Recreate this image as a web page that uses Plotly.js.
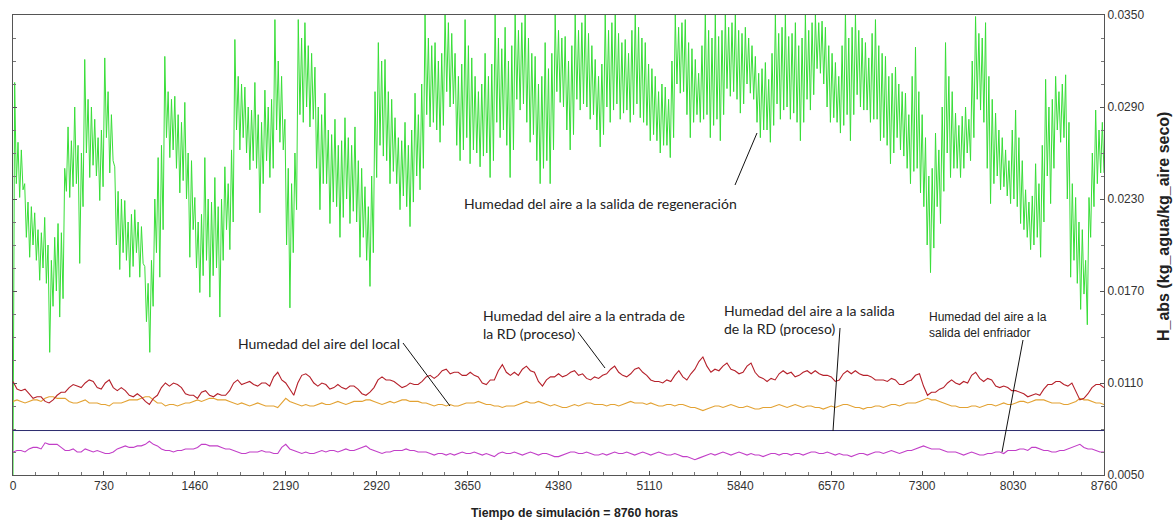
<!DOCTYPE html>
<html>
<head>
<meta charset="utf-8">
<script src="https://cdn.plot.ly/plotly-3.0.1.min.js"></script>
<style>html,body{margin:0;padding:0;background:#fff;}#chart{width:1173px;height:523px;}</style>
</head>
<body>
<div id="chart"></div>
<script>
// ---------- data (kg_agua / kg_aire seco vs. hours) ----------
const totalHours = 8760;
const xTickVals = [0, 730, 1460, 2190, 2920, 3650, 4380, 5110, 5840, 6570, 7300, 8030, 8760];
const xTickText = ["0", "730", "1460", "2190", "2920", "3650", "4380", "5110", "5840", "6570", "7300", "8030", "8760"];
const yTickVals = [0.0050, 0.0110, 0.0170, 0.0230, 0.0290, 0.0350];
const yTickText = ["0.0050", "0.0110", "0.0170", "0.0230", "0.0290", "0.0350"];

// Humedad del aire a la salida de regeneración
const regeneracion = [0.0050,
0.0306,0.0240,0.0267,0.0231,0.0262,0.0236, 0.0240,0.0205,0.0228,0.0192,0.0225,0.0200,
0.0221,0.0190,0.0210,0.0177,0.0208,0.0185, 0.0218,0.0175,0.0200,0.0130,0.0190,0.0160,
0.0205,0.0170,0.0214,0.0153,0.0208,0.0165, 0.0250,0.0235,0.0277,0.0231,0.0268,0.0238,
0.0290,0.0240,0.0265,0.0188,0.0260,0.0225, 0.0321,0.0260,0.0295,0.0244,0.0290,0.0252,
0.0282,0.0245,0.0270,0.0229,0.0275,0.0238, 0.0322,0.0270,0.0300,0.0247,0.0285,0.0255,
0.0251,0.0200,0.0235,0.0184,0.0230,0.0195, 0.0229,0.0190,0.0215,0.0179,0.0220,0.0186,
0.0223,0.0195,0.0215,0.0179,0.0212,0.0188, 0.0186,0.0150,0.0175,0.0130,0.0190,0.0160,
0.0230,0.0195,0.0257,0.0179,0.0265,0.0210, 0.0323,0.0270,0.0300,0.0257,0.0295,0.0262,
0.0297,0.0250,0.0285,0.0234,0.0280,0.0242, 0.0293,0.0230,0.0260,0.0192,0.0255,0.0210,
0.0231,0.0185,0.0215,0.0169,0.0220,0.0180, 0.0257,0.0190,0.0230,0.0166,0.0228,0.0180,
0.0244,0.0185,0.0225,0.0153,0.0230,0.0190, 0.0251,0.0210,0.0240,0.0197,0.0262,0.0215,
0.0334,0.0275,0.0310,0.0262,0.0305,0.0270, 0.0303,0.0260,0.0290,0.0249,0.0288,0.0255,
0.0306,0.0250,0.0285,0.0221,0.0280,0.0240, 0.0301,0.0255,0.0290,0.0244,0.0295,0.0250,
0.0347,0.0275,0.0320,0.0267,0.0310,0.0262, 0.0282,0.0200,0.0250,0.0159,0.0240,0.0195,
0.0260,0.0223,0.0347,0.0285,0.0335,0.0280, 0.0345,0.0290,0.0330,0.0277,0.0325,0.0282,
0.0316,0.0250,0.0290,0.0223,0.0285,0.0240, 0.0299,0.0240,0.0275,0.0214,0.0272,0.0228,
0.0282,0.0225,0.0265,0.0205,0.0268,0.0218, 0.0283,0.0230,0.0270,0.0214,0.0265,0.0222,
0.0277,0.0215,0.0255,0.0192,0.0250,0.0205, 0.0238,0.0190,0.0225,0.0173,0.0245,0.0195,
0.0300,0.0244,0.0332,0.0265,0.0320,0.0258, 0.0321,0.0255,0.0300,0.0240,0.0295,0.0248,
0.0283,0.0240,0.0270,0.0223,0.0268,0.0232, 0.0280,0.0225,0.0265,0.0212,0.0275,0.0228,
0.0299,0.0245,0.0285,0.0236,0.0305,0.0250, 0.0350,0.0285,0.0335,0.0277,0.0330,0.0280,
0.0332,0.0275,0.0320,0.0267,0.0325,0.0278, 0.0352,0.0300,0.0345,0.0290,0.0338,0.0292,
0.0325,0.0265,0.0310,0.0255,0.0318,0.0262, 0.0347,0.0270,0.0330,0.0253,0.0322,0.0262,
0.0310,0.0260,0.0300,0.0251,0.0305,0.0258, 0.0325,0.0260,0.0310,0.0244,0.0318,0.0255,
0.0350,0.0280,0.0335,0.0270,0.0328,0.0275, 0.0342,0.0265,0.0320,0.0244,0.0330,0.0262,
0.0352,0.0295,0.0340,0.0288,0.0345,0.0292, 0.0350,0.0280,0.0335,0.0267,0.0325,0.0272,
0.0323,0.0255,0.0305,0.0240,0.0310,0.0250, 0.0332,0.0255,0.0315,0.0240,0.0325,0.0262,
0.0350,0.0300,0.0340,0.0293,0.0335,0.0290, 0.0336,0.0275,0.0320,0.0262,0.0330,0.0272,
0.0350,0.0295,0.0340,0.0288,0.0345,0.0292, 0.0350,0.0290,0.0338,0.0282,0.0330,0.0285,
0.0321,0.0275,0.0310,0.0264,0.0318,0.0272, 0.0350,0.0290,0.0340,0.0280,0.0345,0.0288,
0.0350,0.0292,0.0338,0.0282,0.0332,0.0286, 0.0334,0.0288,0.0325,0.0280,0.0340,0.0285,
0.0352,0.0292,0.0342,0.0283,0.0335,0.0280, 0.0332,0.0278,0.0318,0.0268,0.0315,0.0272,
0.0310,0.0268,0.0300,0.0260,0.0305,0.0265, 0.0303,0.0265,0.0295,0.0257,0.0320,0.0270,
0.0350,0.0305,0.0342,0.0299,0.0345,0.0300, 0.0347,0.0285,0.0332,0.0270,0.0328,0.0280,
0.0321,0.0285,0.0312,0.0280,0.0330,0.0282, 0.0352,0.0285,0.0340,0.0270,0.0335,0.0278,
0.0350,0.0282,0.0336,0.0268,0.0340,0.0285, 0.0350,0.0302,0.0342,0.0297,0.0345,0.0300,
0.0350,0.0295,0.0340,0.0286,0.0338,0.0292, 0.0342,0.0305,0.0335,0.0299,0.0330,0.0295,
0.0323,0.0280,0.0312,0.0270,0.0315,0.0275, 0.0319,0.0275,0.0308,0.0267,0.0325,0.0278,
0.0350,0.0292,0.0338,0.0282,0.0342,0.0288, 0.0350,0.0290,0.0336,0.0282,0.0338,0.0286,
0.0345,0.0280,0.0330,0.0268,0.0335,0.0280, 0.0350,0.0295,0.0340,0.0288,0.0345,0.0298,
0.0350,0.0315,0.0345,0.0312,0.0346,0.0305, 0.0342,0.0290,0.0330,0.0280,0.0325,0.0283,
0.0319,0.0280,0.0310,0.0273,0.0330,0.0278, 0.0352,0.0285,0.0335,0.0268,0.0342,0.0285,
0.0350,0.0298,0.0340,0.0290,0.0335,0.0288, 0.0332,0.0288,0.0322,0.0280,0.0338,0.0282,
0.0347,0.0282,0.0330,0.0268,0.0325,0.0270, 0.0323,0.0265,0.0310,0.0253,0.0312,0.0260,
0.0316,0.0270,0.0305,0.0262,0.0300,0.0258, 0.0299,0.0250,0.0285,0.0240,0.0310,0.0248,
0.0329,0.0250,0.0300,0.0234,0.0285,0.0225, 0.0270,0.0200,0.0245,0.0182,0.0250,0.0198,
0.0273,0.0225,0.0262,0.0214,0.0290,0.0235, 0.0332,0.0260,0.0310,0.0244,0.0300,0.0250,
0.0286,0.0250,0.0278,0.0244,0.0284,0.0250, 0.0290,0.0260,0.0282,0.0255,0.0320,0.0270,
0.0349,0.0295,0.0338,0.0288,0.0335,0.0280, 0.0345,0.0250,0.0310,0.0227,0.0295,0.0240,
0.0286,0.0245,0.0275,0.0236,0.0270,0.0238, 0.0262,0.0232,0.0255,0.0227,0.0275,0.0230,
0.0288,0.0225,0.0270,0.0214,0.0255,0.0210, 0.0236,0.0205,0.0228,0.0197,0.0232,0.0200,
0.0253,0.0205,0.0240,0.0192,0.0265,0.0215, 0.0308,0.0245,0.0290,0.0227,0.0295,0.0250,
0.0310,0.0275,0.0300,0.0267,0.0305,0.0270, 0.0311,0.0230,0.0280,0.0179,0.0240,0.0190,
0.0231,0.0175,0.0215,0.0158,0.0210,0.0168, 0.0190,0.0148,0.0231,0.0205,0.0260,0.0225,
0.0288,0.0240,0.0275,0.0247,0.0280,0.0247];

// Humedad del aire a la entrada de la RD (proceso)
const entradaRD = [
0.0111,0.0106,0.0105,0.0106,0.0103,0.0100,0.0101,0.0101,0.0098,0.0097,0.0099,0.0102,0.0104,0.0104,0.0107,0.0109,
0.0108,0.0107,0.0110,0.0112,0.0111,0.0107,0.0106,0.0110,0.0112,0.0107,0.0105,0.0107,0.0105,0.0102,0.0101,0.0103,
0.0101,0.0098,0.0096,0.0100,0.0102,0.0107,0.0110,0.0108,0.0110,0.0109,0.0107,0.0103,0.0102,0.0102,0.0100,0.0104,
0.0105,0.0102,0.0101,0.0103,0.0102,0.0102,0.0105,0.0110,0.0112,0.0109,0.0110,0.0111,0.0109,0.0108,0.0110,0.0110,
0.0108,0.0114,0.0117,0.0112,0.0110,0.0106,0.0102,0.0110,0.0115,0.0116,0.0114,0.0110,0.0108,0.0110,0.0109,0.0106,
0.0107,0.0109,0.0107,0.0106,0.0108,0.0108,0.0106,0.0103,0.0102,0.0104,0.0107,0.0112,
0.0114,0.0112,0.0112,0.0111,0.0109,0.0107,0.0108,0.0110,0.0109,0.0109,0.0111,0.0114,0.0115,0.0113,0.0115,0.0118,
0.0119,0.0116,0.0117,0.0117,0.0115,0.0115,0.0117,0.0115,0.0114,0.0110,0.0109,0.0112,0.0112,0.0118,0.0122,0.0117,
0.0115,0.0117,0.0115,0.0119,0.0121,0.0118,0.0117,0.0111,0.0108,0.0112,0.0114,0.0114,0.0116,0.0114,0.0115,0.0117,
0.0118,0.0115,0.0116,0.0113,0.0112,0.0114,0.0113,0.0115,0.0116,0.0119,0.0121,0.0117,0.0115,0.0114,0.0116,0.0119,
0.0120,0.0117,0.0115,0.0112,0.0111,0.0111,0.0110,0.0112,0.0111,0.0115,0.0118,0.0114,0.0112,0.0116,0.0119,0.0124,
0.0127,0.0121,0.0117,0.0119,0.0118,0.0121,0.0123,0.0119,0.0118,0.0116,0.0117,0.0121,
0.0123,0.0117,0.0114,0.0113,0.0111,0.0113,0.0112,0.0116,0.0118,0.0116,0.0117,0.0114,0.0115,0.0117,0.0118,0.0116,
0.0118,0.0116,0.0115,0.0115,0.0114,0.0111,0.0112,0.0116,0.0118,0.0116,0.0118,0.0116,0.0115,0.0115,0.0114,0.0112,
0.0112,0.0112,0.0111,0.0113,0.0112,0.0109,0.0109,0.0111,0.0112,0.0115,0.0116,0.0108,0.0102,0.0104,0.0104,0.0106,
0.0107,0.0110,0.0112,0.0110,0.0109,0.0111,0.0110,0.0115,0.0117,0.0113,0.0111,0.0113,0.0112,0.0108,0.0107,0.0108,
0.0107,0.0105,0.0105,0.0104,0.0103,0.0101,0.0102,0.0103,0.0102,0.0106,0.0109,0.0109,0.0111,0.0111,0.0109,0.0108,
0.0110,0.0105,0.0099,0.0100,0.0103,0.0107,0.0109,0.0109,0.0107];

// Humedad del aire del local
const local = [
0.0098,0.0099,0.0098,0.0097,0.0098,0.0099,0.0099,0.0098,0.0100,0.0101,0.0101,0.0100,0.0100,0.0100,0.0098,0.0097,
0.0097,0.0098,0.0099,0.0097,0.0097,0.0097,0.0096,0.0096,0.0095,0.0097,0.0097,0.0097,0.0098,0.0099,0.0099,0.0099,
0.0100,0.0101,0.0101,0.0099,0.0097,0.0097,0.0095,0.0096,0.0096,0.0095,0.0096,0.0097,0.0097,0.0098,0.0099,0.0098,
0.0099,0.0100,0.0100,0.0099,0.0099,0.0099,0.0098,0.0097,0.0096,0.0097,0.0096,0.0095,0.0096,0.0097,0.0096,0.0095,
0.0095,0.0095,0.0094,0.0097,0.0100,0.0098,0.0097,0.0096,0.0095,0.0096,0.0095,0.0095,0.0096,0.0097,0.0096,0.0096,
0.0097,0.0098,0.0097,0.0096,0.0097,0.0098,0.0098,0.0098,0.0099,0.0099,0.0098,0.0097,
0.0096,0.0097,0.0098,0.0097,0.0098,0.0099,0.0099,0.0098,0.0098,0.0098,0.0097,0.0097,0.0096,0.0095,0.0096,0.0096,
0.0095,0.0096,0.0095,0.0095,0.0096,0.0097,0.0097,0.0097,0.0098,0.0097,0.0096,0.0096,0.0095,0.0095,0.0094,0.0095,
0.0095,0.0095,0.0096,0.0097,0.0098,0.0097,0.0097,0.0098,0.0097,0.0096,0.0095,0.0096,0.0095,0.0094,0.0094,0.0095,
0.0096,0.0095,0.0096,0.0097,0.0097,0.0096,0.0096,0.0096,0.0095,0.0096,0.0096,0.0095,0.0096,0.0097,0.0098,0.0097,
0.0097,0.0097,0.0096,0.0097,0.0096,0.0095,0.0095,0.0096,0.0096,0.0095,0.0096,0.0096,0.0095,0.0094,0.0094,0.0093,
0.0092,0.0093,0.0094,0.0095,0.0095,0.0094,0.0095,0.0096,0.0095,0.0094,0.0094,0.0095,
0.0094,0.0093,0.0093,0.0094,0.0094,0.0094,0.0095,0.0096,0.0095,0.0094,0.0095,0.0096,0.0095,0.0094,0.0095,0.0095,
0.0094,0.0094,0.0093,0.0094,0.0095,0.0094,0.0095,0.0096,0.0096,0.0095,0.0094,0.0094,0.0093,0.0094,0.0094,0.0095,
0.0095,0.0094,0.0095,0.0096,0.0096,0.0095,0.0096,0.0097,0.0097,0.0097,0.0098,0.0099,0.0100,0.0099,0.0099,0.0098,
0.0097,0.0096,0.0095,0.0095,0.0094,0.0094,0.0094,0.0095,0.0095,0.0094,0.0095,0.0096,0.0096,0.0095,0.0096,0.0097,
0.0096,0.0096,0.0097,0.0098,0.0098,0.0097,0.0098,0.0099,0.0099,0.0099,0.0098,0.0097,0.0097,0.0097,0.0096,0.0096,
0.0097,0.0098,0.0100,0.0099,0.0099,0.0098,0.0097,0.0097,0.0096];

// Humedad del aire a la salida de la RD (proceso)
const salidaRD = [0.0079, 0.0079];

// Humedad del aire a la salida del enfriador
const enfriador = [
0.0065,0.0066,0.0066,0.0065,0.0067,0.0068,0.0068,0.0067,0.0071,0.0070,0.0070,0.0070,0.0068,0.0066,0.0066,0.0067,
0.0065,0.0065,0.0067,0.0066,0.0065,0.0066,0.0065,0.0064,0.0064,0.0065,0.0067,0.0068,0.0069,0.0068,0.0068,0.0069,
0.0069,0.0070,0.0072,0.0070,0.0069,0.0067,0.0066,0.0066,0.0065,0.0066,0.0066,0.0067,0.0067,0.0067,0.0068,0.0070,
0.0070,0.0069,0.0069,0.0069,0.0068,0.0067,0.0067,0.0066,0.0065,0.0064,0.0064,0.0065,0.0065,0.0065,0.0066,0.0065,
0.0065,0.0064,0.0064,0.0068,0.0070,0.0067,0.0066,0.0065,0.0064,0.0065,0.0064,0.0064,0.0065,0.0066,0.0065,0.0066,
0.0066,0.0065,0.0066,0.0067,0.0066,0.0066,0.0067,0.0068,0.0069,0.0067,0.0066,0.0065,
0.0064,0.0065,0.0065,0.0066,0.0066,0.0066,0.0067,0.0066,0.0066,0.0065,0.0065,0.0065,0.0064,0.0063,0.0064,0.0064,
0.0063,0.0064,0.0063,0.0064,0.0065,0.0064,0.0064,0.0065,0.0064,0.0063,0.0064,0.0063,0.0062,0.0064,0.0065,0.0064,
0.0064,0.0065,0.0064,0.0063,0.0064,0.0065,0.0064,0.0063,0.0064,0.0064,0.0063,0.0062,0.0062,0.0063,0.0064,0.0065,
0.0065,0.0064,0.0064,0.0065,0.0064,0.0063,0.0063,0.0064,0.0063,0.0064,0.0065,0.0064,0.0064,0.0065,0.0064,0.0063,
0.0064,0.0065,0.0064,0.0063,0.0064,0.0065,0.0064,0.0063,0.0063,0.0064,0.0063,0.0062,0.0062,0.0061,0.0060,0.0061,
0.0062,0.0063,0.0064,0.0063,0.0064,0.0065,0.0064,0.0063,0.0064,0.0065,0.0064,0.0063,
0.0064,0.0063,0.0063,0.0062,0.0063,0.0064,0.0064,0.0063,0.0064,0.0064,0.0063,0.0064,0.0064,0.0063,0.0064,0.0065,
0.0065,0.0064,0.0064,0.0065,0.0064,0.0063,0.0064,0.0063,0.0063,0.0062,0.0063,0.0064,0.0064,0.0063,0.0064,0.0065,
0.0065,0.0064,0.0065,0.0066,0.0065,0.0064,0.0065,0.0066,0.0066,0.0067,0.0068,0.0069,0.0068,0.0067,0.0067,0.0067,
0.0066,0.0065,0.0065,0.0065,0.0064,0.0063,0.0064,0.0065,0.0064,0.0063,0.0063,0.0064,0.0064,0.0065,0.0065,0.0064,
0.0066,0.0066,0.0066,0.0067,0.0067,0.0066,0.0068,0.0068,0.0067,0.0066,0.0066,0.0065,0.0065,0.0066,0.0066,0.0067,
0.0068,0.0069,0.0070,0.0068,0.0067,0.0067,0.0066,0.0065,0.0065];

const labels = {
  regeneracion: "Humedad del aire a la salida de regeneración",
  entrada: "Humedad del aire a la entrada de<br>la RD (proceso)",
  local: "Humedad del aire del local",
  salida: "Humedad del aire a la salida<br>de la RD (proceso)",
  enfriador: "Humedad del aire a la<br>salida del enfriador"
};
const xTitle = "Tiempo de simulación = 8760 horas";
const yTitle = "H_abs (kg_agua/kg_aire seco)";

// ---------- helpers ----------
function hoursFor(arr) { const n = arr.length; return arr.map((_, i) => i * totalHours / (n - 1)); }
function line(arr, color, w) {
  return { type: 'scatter', mode: 'lines', x: hoursFor(arr), y: arr,
           line: { color: color, width: w }, hoverinfo: 'skip' };
}
// plot area in pixels: x 13..1104, y 15..475
const PX0 = 13, PX1 = 1104, PY0 = 15, PY1 = 475;
const px = x => (x - PX0) / (PX1 - PX0);
const py = y => (PY1 - y) / (PY1 - PY0);

const traces = [
  line(regeneracion, '#38de38', 1),
  line(local, '#e3a233', 1.1),
  line(entradaRD, '#b5202a', 1.1),
  line(salidaRD, '#2c2c6e', 1),
  line(enfriador, '#c23fc8', 1.1)
];

const noteFont = { family: 'Lato, "Noto Sans", sans-serif', size: 14, color: '#222' };
const smallFont = { family: 'Arial, "Liberation Sans", sans-serif', size: 12, color: '#222' };
function note(text, x, y, font) {
  return { text: text, xref: 'paper', yref: 'paper', x: px(x), y: py(y), xanchor: 'left', yanchor: 'middle',
           align: 'left', showarrow: false, borderpad: 0, font: font };
}
function pointer(x0, y0, x1, y1) {
  return { type: 'line', xref: 'paper', yref: 'paper', x0: px(x0), y0: py(y0), x1: px(x1), y1: py(y1),
           line: { color: '#111', width: 1 } };
}

const layout = {
  width: 1173, height: 523,
  margin: { l: PX0, r: 1173 - PX1, t: PY0, b: 523 - PY1 },
  paper_bgcolor: '#fff', plot_bgcolor: '#fff',
  showlegend: false,
  xaxis: {
    range: [0, totalHours], tickmode: 'array', tickvals: xTickVals, ticktext: xTickText,
    ticks: 'inside', ticklen: 4, tickcolor: '#555', showline: true, linecolor: '#555', linewidth: 1,
    mirror: true, showgrid: false, zeroline: false,
    tickfont: { family: 'Arial, "Liberation Sans", sans-serif', size: 12, color: '#333' },
    minor: { tickmode: 'linear', tick0: 0, dtick: 182.5, ticks: 'inside', ticklen: 3, tickcolor: '#777', showgrid: false }
  },
  yaxis: {
    side: 'right', range: [0.005, 0.035], tickmode: 'array', tickvals: yTickVals, ticktext: yTickText,
    ticks: 'inside', ticklen: 4, tickcolor: '#555', showline: true, linecolor: '#555', linewidth: 1,
    mirror: 'ticks', showgrid: false, zeroline: false,
    tickfont: { family: 'Arial, "Liberation Sans", sans-serif', size: 12, color: '#333' },
    minor: { tickmode: 'linear', tick0: 0.005, dtick: 0.0015, ticks: 'inside', ticklen: 3, tickcolor: '#777', showgrid: false }
  },
  annotations: [
    note(labels.regeneracion, 463, 204, noteFont),
    note(labels.entrada, 482, 324, noteFont),
    note(labels.local, 237, 343, noteFont),
    note(labels.salida, 723, 319, noteFont),
    note(labels.enfriador, 928, 324.5, smallFont),
    { text: '<b>' + xTitle + '</b>', xref: 'paper', yref: 'paper', x: px(574), y: py(513),
      xanchor: 'center', yanchor: 'middle', showarrow: false,
      font: { family: 'Arial, "Liberation Sans", sans-serif', size: 12.3, color: '#222' } },
    { text: '<b>' + yTitle + '</b>', xref: 'paper', yref: 'paper', x: px(1163), y: py(227),
      xanchor: 'center', yanchor: 'middle', textangle: -90, showarrow: false,
      font: { family: 'Arial, "Liberation Sans", sans-serif', size: 16, color: '#222' } }
  ],
  shapes: [
    pointer(735, 185, 757, 133),
    pointer(578, 332, 605, 368),
    pointer(403, 343, 450, 406),
    pointer(840, 328, 833, 431),
    pointer(1023, 340, 1002, 452)
  ]
};

Plotly.newPlot('chart', traces, layout, { displayModeBar: false, staticPlot: true });
</script>
</body>
</html>
